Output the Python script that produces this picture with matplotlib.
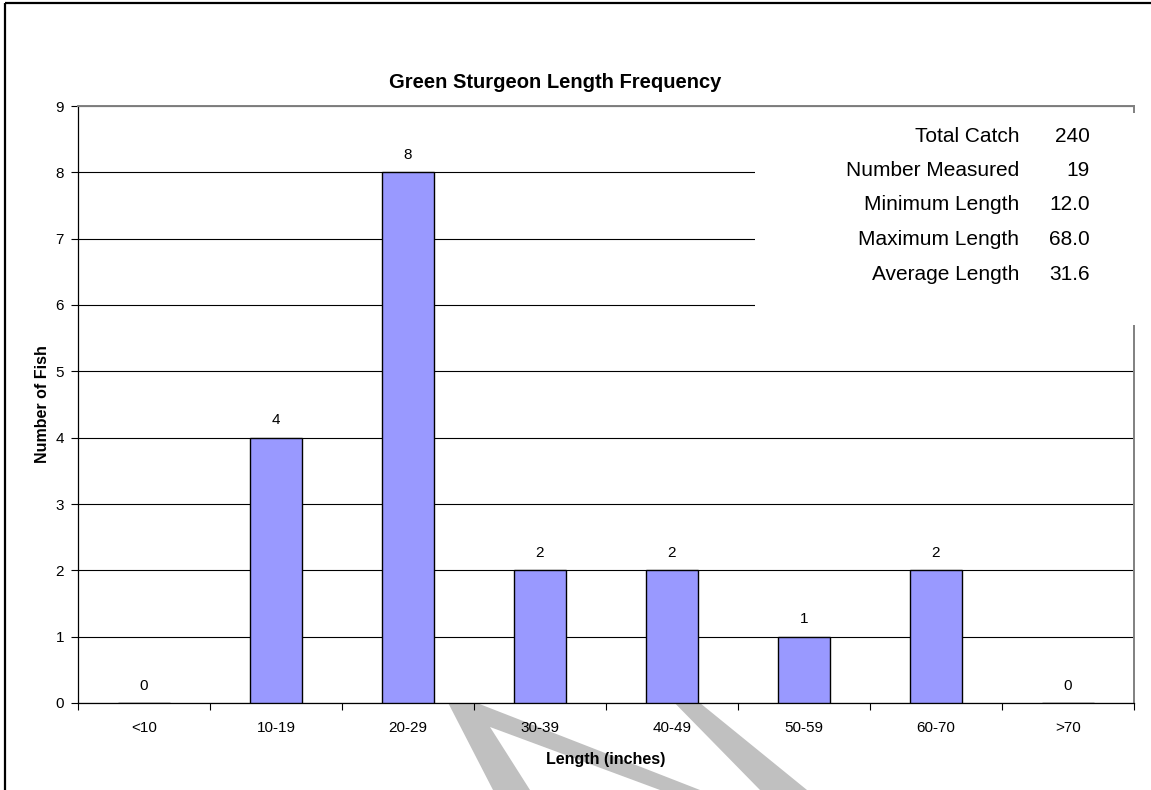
import matplotlib
matplotlib.use("Agg")
import matplotlib.pyplot as plt
from matplotlib.patches import Polygon, Rectangle
import numpy as np

plt.rcParams['font.family'] = ['Liberation Sans', 'DejaVu Sans']

# data
categories = ['<10', '10-19', '20-29', '30-39', '40-49', '50-59', '60-70', '>70']
counts = [0, 4, 8, 2, 2, 1, 2, 0]
stat_names = ['Total Catch', 'Number Measured', 'Minimum Length', 'Maximum Length', 'Average Length']
stat_values = ['240', '19', '12.0', '68.0', '31.6']

W, H = 1151, 790
fig = plt.figure(figsize=(W / 100, H / 100), dpi=100)
fig.patch.set_facecolor('white')

def px(x, y):
    # pixel coords (from top-left) -> figure fraction
    return (x / W, 1 - y / H)

# outer frame (clipped on right and bottom)
fig.patches.append(Rectangle(px(5, 3), 1.2, -1.2, transform=fig.transFigure,
                             fill=False, edgecolor='black', lw=1.6, zorder=-2))

# grey mark behind the chart
grey = '#c0c0c0'
shape1 = [(441, 689), (700, 790), (660, 790), (490, 727), (530, 790), (493, 790)]
shape2 = [(662, 690), (684, 690), (807, 790), (760, 790)]
for shp in (shape1, shape2):
    fig.patches.append(Polygon([px(x, y) for x, y in shp], closed=True,
                               transform=fig.transFigure, facecolor=grey,
                               edgecolor='none', zorder=-1))

ax = fig.add_axes([78 / W, 1 - 703 / H, (1134 - 78) / W, (703 - 106) / H])
ax.set_facecolor('white')

x = np.arange(len(categories))
ax.bar(x, counts, width=0.4, color='#9999ff', edgecolor='black', linewidth=1.0, zorder=3)
for xi, c in zip(x, counts):
    ax.annotate(str(c), (xi, c), xytext=(0, 7.5), textcoords='offset points',
                ha='center', va='bottom', fontsize=11)

ax.set_xlim(-0.5, len(categories) - 0.5)
ax.set_ylim(0, 9)
ax.set_yticks(range(0, 10))
ax.yaxis.grid(True, color='black', lw=0.8, zorder=0)
ax.set_axisbelow(True)

ax.set_xticks(np.arange(-0.5, len(categories) + 0.5, 1))
ax.set_xticklabels([])
ax.set_xticks(x, minor=True)
ax.set_xticklabels(categories, minor=True, fontsize=11)
ax.tick_params(axis='x', which='major', length=5, width=0.8, direction='out')
ax.tick_params(axis='x', which='minor', length=0, pad=13)
ax.tick_params(axis='y', length=5, width=0.8, labelsize=11, pad=5)

for s in ['left', 'bottom']:
    ax.spines[s].set_color('black')
    ax.spines[s].set_linewidth(0.9)
for s in ['top', 'right']:
    ax.spines[s].set_color('#808080')
    ax.spines[s].set_linewidth(1.4)

ax.set_xlabel('Length (inches)', fontsize=11.5, fontweight='bold', labelpad=12)
ax.set_ylabel('Number of Fish', fontsize=11.5, fontweight='bold', labelpad=4)

fig.text(555 / W, 1 - 83 / H, 'Green Sturgeon Length Frequency', ha='center', va='center',
         fontsize=14.5, fontweight='bold')

# stats box
fig.patches.append(Rectangle(px(755, 113), 385 / W, -212 / H, transform=fig.transFigure,
                             facecolor='white', edgecolor='none', zorder=5))
for i, (nm, val) in enumerate(zip(stat_names, stat_values)):
    y = 1 - (136 + i * 34.5) / H
    fig.text(1019 / W, y, nm, ha='right', va='center', fontsize=15, zorder=6)
    fig.text(1090 / W, y, val, ha='right', va='center', fontsize=15, zorder=6)

fig.savefig('out.png', dpi=100)
